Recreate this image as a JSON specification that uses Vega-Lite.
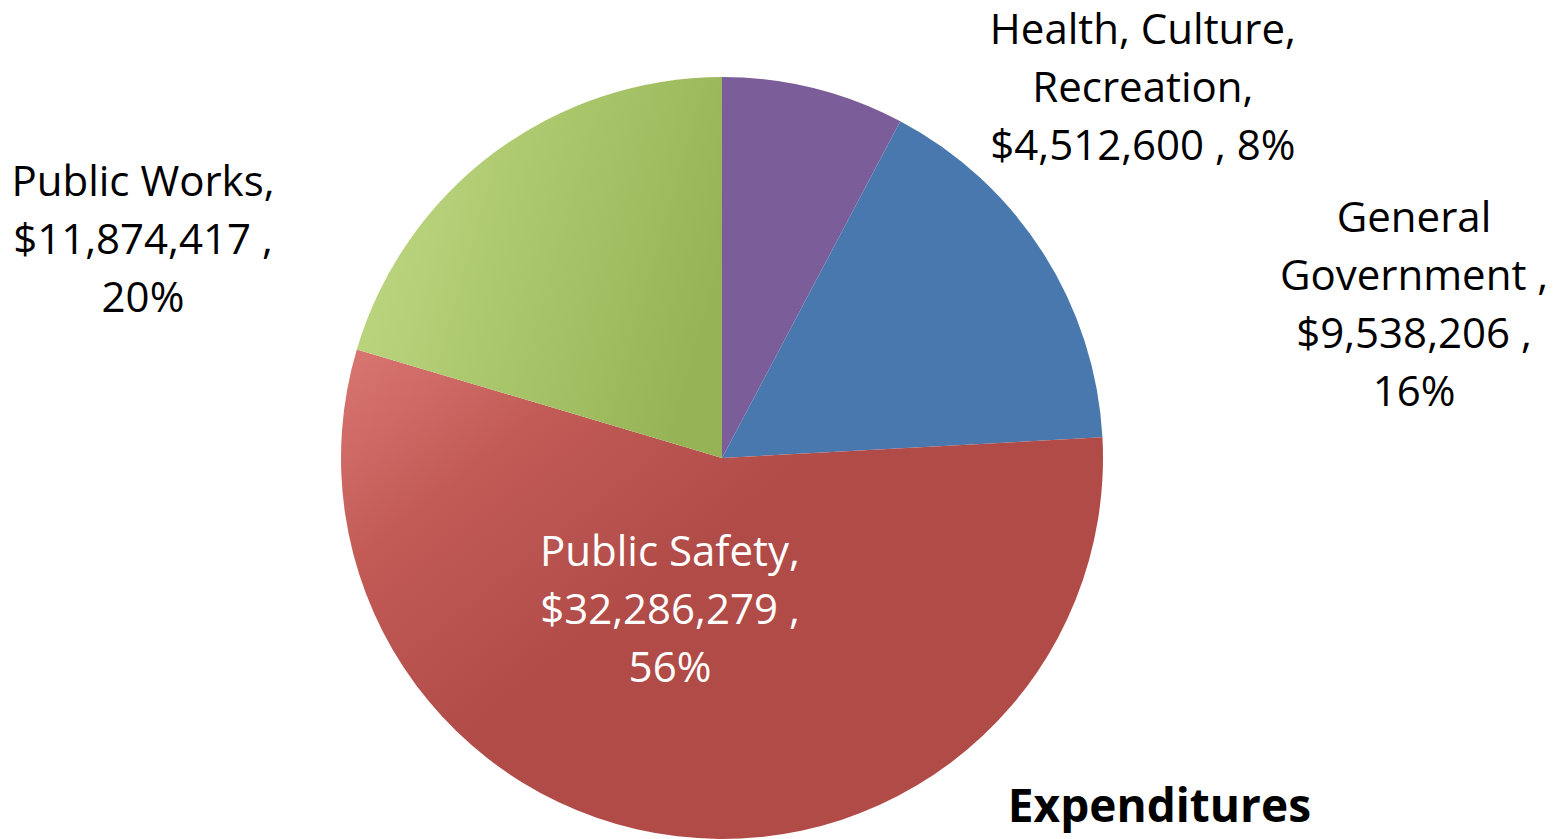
{
  "$schema": "https://vega.github.io/schema/vega-lite/v6.json",
  "autosize": {"type": "none"},
  "width": 1444,
  "height": 762,
  "padding": {"left": 0, "top": 77, "right": 118, "bottom": 0},
  "background": "white",
  "config": {"view": {"stroke": null}},
  "title": {
    "text": "Expenditures",
    "orient": "bottom",
    "anchor": "end",
    "frame": "group",
    "font": "Open Sans",
    "fontSize": 46,
    "fontWeight": "bold",
    "color": "#000000",
    "baseline": "top",
    "offset": -53,
    "dx": -133
  },
  "data": {
    "values": [
      {"cat": "Health, Culture, Recreation", "value": 4512600, "o": 1, "label": "Health, Culture,\nRecreation,\n$4,512,600 , 8%"},
      {"cat": "General Government", "value": 9538206, "o": 2, "label": "General\nGovernment ,\n$9,538,206 ,\n16%"},
      {"cat": "Public Safety", "value": 32286279, "o": 3, "label": "Public Safety,\n$32,286,279 ,\n56%"},
      {"cat": "Public Works", "value": 11874417, "o": 4, "label": "Public Works,\n$11,874,417 ,\n20%"}
    ]
  },
  "transform": [
    {"stack": "value", "groupby": [], "sort": [{"field": "o", "order": "ascending"}], "as": ["v0", "v1"]}
  ],
  "layer": [
    {
      "transform": [{"filter": {"field": "cat", "equal": "Health, Culture, Recreation"}}],
      "mark": {"type": "arc", "outerRadius": 381, "fill": "#7A5D99"},
      "encoding": {
        "theta": {"field": "v0", "type": "quantitative", "stack": null, "scale": {"zero": true, "nice": false}},
        "theta2": {"field": "v1"}
      }
    },
    {
      "transform": [{"filter": {"field": "cat", "equal": "General Government"}}],
      "mark": {"type": "arc", "outerRadius": 381, "fill": "#4878AD"},
      "encoding": {
        "theta": {"field": "v0", "type": "quantitative", "stack": null},
        "theta2": {"field": "v1"}
      }
    },
    {
      "transform": [{"filter": {"field": "cat", "equal": "Public Safety"}}],
      "mark": {
        "type": "arc",
        "outerRadius": 381,
        "fill": {
          "gradient": "linear",
          "x1": 0, "y1": 0, "x2": 0.5, "y2": 0.4,
          "stops": [
            {"offset": 0, "color": "#DA7773"},
            {"offset": 0.45, "color": "#C25B56"},
            {"offset": 1, "color": "#B04B48"}
          ]
        }
      },
      "encoding": {
        "theta": {"field": "v0", "type": "quantitative", "stack": null},
        "theta2": {"field": "v1"}
      }
    },
    {
      "transform": [{"filter": {"field": "cat", "equal": "Public Works"}}],
      "mark": {
        "type": "arc",
        "outerRadius": 381,
        "fill": {
          "gradient": "linear",
          "x1": 0, "y1": 0.2, "x2": 1, "y2": 0.5,
          "stops": [
            {"offset": 0, "color": "#BFD983"},
            {"offset": 1, "color": "#96B455"}
          ]
        }
      },
      "encoding": {
        "theta": {"field": "v0", "type": "quantitative", "stack": null},
        "theta2": {"field": "v1"}
      }
    },
    {
      "transform": [{"filter": {"field": "cat", "equal": "Health, Culture, Recreation"}}],
      "mark": {"type": "text", "font": "Open Sans", "fontSize": 42, "lineHeight": 58, "lineBreak": "\n", "align": "center", "baseline": "middle", "color": "#000000", "thetaOffset": 0.2911},
      "encoding": {
        "theta": {"field": "v1", "type": "quantitative", "stack": null},
        "radius": {"value": 599.6},
        "text": {"field": "label", "type": "nominal"}
      }
    },
    {
      "transform": [{"filter": {"field": "cat", "equal": "General Government"}}],
      "mark": {"type": "text", "font": "Open Sans", "fontSize": 42, "lineHeight": 58, "lineBreak": "\n", "align": "center", "baseline": "middle", "color": "#000000", "thetaOffset": -0.2783},
      "encoding": {
        "theta": {"field": "v1", "type": "quantitative", "stack": null},
        "radius": {"value": 732.1},
        "text": {"field": "label", "type": "nominal"}
      }
    },
    {
      "transform": [{"filter": {"field": "cat", "equal": "Public Safety"}}],
      "mark": {"type": "text", "font": "Open Sans", "fontSize": 42, "lineHeight": 58, "lineBreak": "\n", "align": "center", "baseline": "middle", "color": "#FFFFFF", "thetaOffset": -1.359},
      "encoding": {
        "theta": {"field": "v1", "type": "quantitative", "stack": null},
        "radius": {"value": 108.3},
        "text": {"field": "label", "type": "nominal"}
      }
    },
    {
      "transform": [{"filter": {"field": "cat", "equal": "Public Works"}}],
      "mark": {"type": "text", "font": "Open Sans", "fontSize": 42, "lineHeight": 58, "lineBreak": "\n", "align": "center", "baseline": "middle", "color": "#000000", "thetaOffset": -1.1274},
      "encoding": {
        "theta": {"field": "v1", "type": "quantitative", "stack": null},
        "radius": {"value": 641},
        "text": {"field": "label", "type": "nominal"}
      }
    }
  ]
}
